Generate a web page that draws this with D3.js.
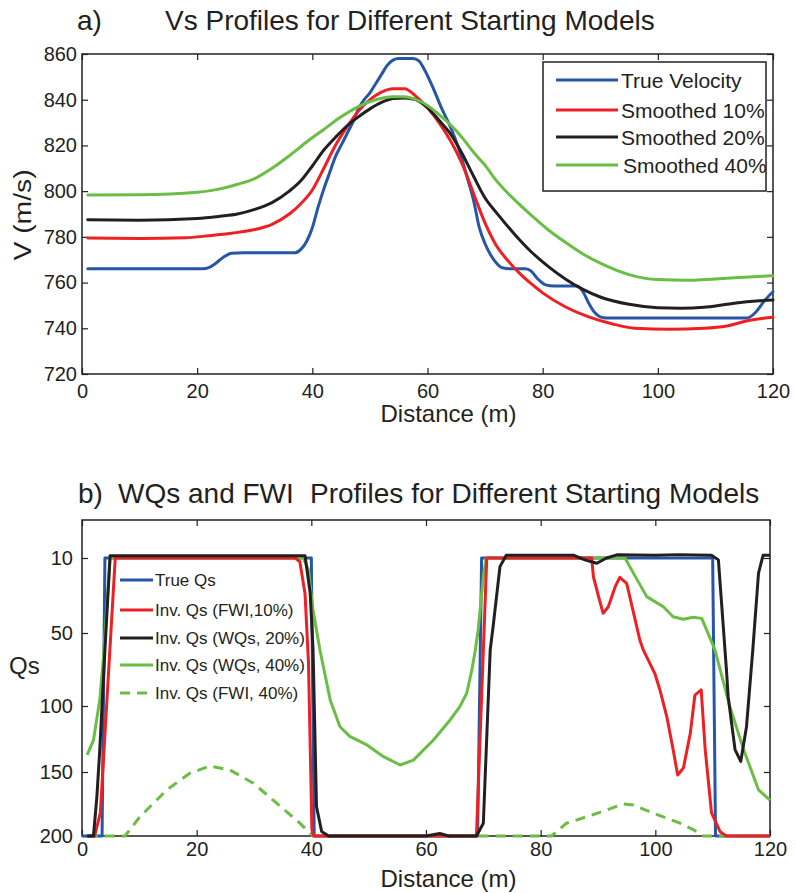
<!DOCTYPE html>
<html><head><meta charset="utf-8">
<script src="https://cdn.jsdelivr.net/npm/d3@7"></script>
<style>
body{margin:0;background:#fff}
svg{display:block}
text{font-family:"Liberation Sans",Arial,Helvetica,sans-serif;fill:#231f20}
</style>
</head><body>
<svg id="c" width="796" height="893"></svg>
<script>
// ---------- DATA (panel a: Vs profiles, [distance m, velocity m/s]) ----------
const xTicks = [0, 20, 40, 60, 80, 100, 120];
const vTicks = [720, 740, 760, 780, 800, 820, 840, 860];
const qTicks = [10, 50, 100, 150, 200];

const trueVelocity = [[1,766],[21,766],[22,766.5],[23,768],[24.5,771],[26,772.8],[28,773],[37,773],[38,774.5],[39,778],[40,784],[41,793],[42,801],[43,808],[44,815],[45,820],[46,825],[47,830],[48,836],[49,840],[50,843],[51,847],[52,851],[53,855],[54,857.3],[55,858],[57.5,858],[58.5,857],[59.5,853],[61,845],[62.5,836],[64,828],[65.5,818],[67,805],[68,796],[69,784],[70,777],[71,772],[72,768.5],[73,766.5],[74.5,766],[77,766],[78,765],[79,762],[80.5,759],[82,758.5],[86,758.5],[87,756],[88,751],[89,747],[90,745],[91,744.5],[115.5,744.5],[117,747],[118.5,752],[120,756]];
const smoothed10 = [[1,779.5],[10,779.3],[18,779.6],[22,780.5],[26,781.6],[30,783.2],[33,785.5],[36,790],[38,794.5],[40,800.5],[42,810],[44,820],[46,828],[48,835],[50,840],[52,843.3],[54,844.8],[56,844.8],[58,841.5],[60,836.5],[62,830],[64,822],[66,812],[68,799],[70,786],[72,776],[74,769.5],[76,764],[78,759.5],[80,755.5],[84,749.3],[88,745],[92,742],[96,740],[102,739.6],[108,740],[112,741],[116,743.5],[120,744.8]];
const smoothed20 = [[1,787.5],[10,787.3],[20,788],[24,789],[27,790],[30,792],[33,795],[36,800],[38,804.5],[40,811],[42,818],[44,823.5],[46,828.5],[48,832.5],[50,836],[52,838.8],[54,840.5],[56,840.8],[58,840],[60,836.5],[62,831],[64,825],[66,816.5],[68,806.5],[70,797],[72,790.5],[75,781.5],[78,773.5],[81,767],[84,761.5],[87,757],[90,753.7],[95,750.5],[100,749],[104,748.8],[108,749.2],[112,750.5],[116,751.7],[120,752.4]];
const smoothed40 = [[1,798.3],[10,798.4],[20,799.5],[24,801],[27,803],[30,805.5],[33,810],[36,815.5],[39,821.5],[42,827],[45,832.5],[48,837],[51,840],[54,841.3],[56,841.3],[58,840],[60,837.5],[62,833.5],[64,829],[66,823.5],[68,817],[70,811.3],[72,804.5],[75,796.5],[78,789.5],[81,783],[84,777.5],[87,772.5],[90,768.5],[95,763.5],[100,761.3],[105,761],[110,761.6],[115,762.3],[120,763]];

// ---------- DATA (panel b: Qs profiles, [distance m, Qs]) ----------
const trueQs = [[0,200],[3.5,200],[4,10],[40,10],[40.5,200],[69,200],[69.7,10],[110,10],[110.5,200],[120,200]];
const fwi10 = [[1,200],[2.2,200],[3.2,182],[5.8,10],[37.2,10],[38,12],[38.9,29],[39.5,70],[40.1,195],[40.4,200],[68.8,200],[70.6,10],[88.9,10],[89.2,20],[90.1,30.6],[90.9,39.5],[91.8,36],[93,25.3],[93.8,20.3],[95,23.5],[96.2,39.3],[97.3,54.8],[97.9,61.6],[99.9,77.6],[100.8,89],[102,108],[103.1,133],[103.9,152.3],[104.9,147],[106.1,120.7],[106.9,92.5],[108,89],[108.7,133],[109.8,182],[111.3,196.6],[112.4,200],[120,200]];
const wqs20 = [[0.9,200],[2,200],[2.6,169],[3.1,133],[4,61.6],[4.9,8.8],[38.9,8.8],[39.8,28.7],[40.3,61.6],[40.9,177],[41.8,196.5],[43,200],[60,200],[62.4,198],[64,200],[68.8,200],[70,190],[71.2,61.6],[71.7,46.7],[72.9,14.6],[74,8.5],[85.7,8.5],[87.7,11],[89.8,12.8],[91.5,10],[93.3,8.3],[100,8.5],[104,8.2],[109.8,8.5],[111,11],[112.4,75],[112.7,93.6],[113.9,133],[114.9,142],[115.9,115.7],[117,61.6],[118,18],[118.8,8.5],[120,8.5]];
const wqs40 = [[0.9,137],[2,125.8],[3.1,95.9],[3.7,68.5],[4.9,10],[38.6,10],[39.5,16.4],[40.3,37.7],[41.5,61.6],[43.3,96],[45,115.7],[46.7,123],[49.7,129.5],[52.6,138.4],[55.5,144.7],[57.8,141],[61.3,125.8],[64.2,110.6],[65.9,100.5],[67.1,91.3],[68,75.3],[68.6,61.6],[69.1,48.4],[70,20],[70.5,10],[94.7,10],[96.2,18.2],[98.5,30.6],[101.4,36],[103.1,41.3],[104.9,42.7],[106.6,41.6],[108.1,42.2],[110.4,61.6],[113,100.5],[115.4,133],[118,164],[120,171.9]];
const fwi40 = [[1,200],[7.5,200],[10.1,185],[14.8,164],[18.8,151],[22.3,145.5],[25.8,148.5],[29.9,158.8],[34,174.5],[38,190],[40.3,200],[81.9,200],[84.5,190],[88,185],[91.5,179.7],[94.4,175],[96.2,175.8],[99.7,182.3],[104.3,190],[106.6,195],[108.4,200],[120,200]];

const legendA = ["True Velocity", "Smoothed 10%", "Smoothed 20%", "Smoothed 40%"];
const legendB = ["True Qs", "Inv. Qs (FWI,10%)", "Inv. Qs (WQs, 20%)", "Inv. Qs (WQs, 40%)", "Inv. Qs (FWI, 40%)"];

// ---------- STYLE ----------
const C = {blue:"#2756a6", red:"#ed2024", black:"#231f20", green:"#6abd45", ink:"#231f20"};
const svg = d3.select("#c");

function styleAxis(g, fs) {
  g.attr("font-size", fs).attr("font-family", '"Liberation Sans",Arial,Helvetica,sans-serif').style("color", C.ink);
  g.selectAll(".tick line").attr("stroke-width", 1.2);
  g.select(".domain").remove();
}

// ================= PANEL A =================
const xA = d3.scaleLinear().domain([0,120]).range([82,773]);
const yA = d3.scaleLinear().domain([720,860]).range([374,54]);

svg.append("text").attr("x",77).attr("y",30).attr("font-size",28).text("a)");
svg.append("text").attr("x",165).attr("y",30).attr("font-size",28).text("Vs Profiles for Different Starting Models");

svg.append("g").attr("transform",`translate(0,${yA(720)})`)
  .call(d3.axisBottom(xA).tickValues(xTicks).tickSize(-6).tickSizeOuter(0).tickPadding(10).tickFormat(d3.format("d")))
  .call(g=>styleAxis(g,20));
svg.append("g").attr("transform",`translate(0,${yA(860)})`)
  .call(d3.axisTop(xA).tickValues(xTicks).tickSize(-6).tickSizeOuter(0).tickFormat(""))
  .call(g=>styleAxis(g,20));
svg.append("g").attr("transform",`translate(${xA(0)},0)`)
  .call(d3.axisLeft(yA).tickValues(vTicks).tickSize(-6).tickSizeOuter(0).tickPadding(5).tickFormat(d3.format("d")))
  .call(g=>styleAxis(g,20));
svg.append("g").attr("transform",`translate(${xA(120)},0)`)
  .call(d3.axisRight(yA).tickValues(vTicks).tickSize(-6).tickSizeOuter(0).tickFormat(""))
  .call(g=>styleAxis(g,20));
svg.append("rect").attr("x",xA(0)).attr("y",yA(860)).attr("width",xA(120)-xA(0)).attr("height",yA(720)-yA(860))
  .attr("fill","none").attr("stroke",C.ink).attr("stroke-width",1.5);

const lineA = d3.line().x(d=>xA(d[0])).y(d=>yA(d[1])).curve(d3.curveMonotoneX);
const seriesA = [[trueVelocity,C.blue],[smoothed10,C.red],[smoothed20,C.black],[smoothed40,C.green]];
seriesA.forEach(([data,col])=>{
  svg.append("path").datum(data).attr("d",lineA).attr("fill","none").attr("stroke",col)
    .attr("stroke-width",3).attr("stroke-linejoin","round").attr("stroke-linecap","round");
});

svg.append("text").attr("x",448.5).attr("y",422).attr("text-anchor","middle").attr("font-size",24).text("Distance (m)");
svg.append("text").attr("transform","translate(31,215) rotate(-90) scale(1.18,1)").attr("text-anchor","middle").attr("font-size",24).text("V (m/s)");

// legend A
const legA = svg.append("g");
legA.append("rect").attr("x",543).attr("y",62).attr("width",223).attr("height",129)
  .attr("fill","#fff").attr("stroke",C.ink).attr("stroke-width",1.5);
const legAy = [80,110,137,165];
legendA.forEach((t,i)=>{
  legA.append("line").attr("x1",556).attr("x2",618).attr("y1",legAy[i]).attr("y2",legAy[i])
    .attr("stroke",seriesA[i][1]).attr("stroke-width",3);
  legA.append("text").attr("x",i===3?623:621).attr("y",legAy[i]+7.5).attr("font-size",21).text(t);
});

// ================= PANEL B =================
const xB = d3.scaleLinear().domain([0,120]).range([82,770]);
const yB = d3.scaleLinear().domain(qTicks).range([558,633,706,772,836]);
const topB = 520;

svg.append("text").attr("x",78).attr("y",503).attr("font-size",28).text("b)");
svg.append("text").attr("x",118).attr("y",503).attr("font-size",28).text("WQs and FWI");
svg.append("text").attr("x",310).attr("y",503).attr("font-size",28).text("Profiles for Different Starting Models");

svg.append("g").attr("transform",`translate(0,${yB(200)})`)
  .call(d3.axisBottom(xB).tickValues(xTicks).tickSize(-6).tickSizeOuter(0).tickPadding(6).tickFormat(d3.format("d")))
  .call(g=>styleAxis(g,20));
svg.append("g").attr("transform",`translate(0,${topB})`)
  .call(d3.axisTop(xB).tickValues(xTicks).tickSize(-6).tickSizeOuter(0).tickFormat(""))
  .call(g=>styleAxis(g,20));
svg.append("g").attr("transform",`translate(${xB(0)},0)`)
  .call(d3.axisLeft(yB).tickValues(qTicks).tickSize(-6).tickSizeOuter(0).tickPadding(9).tickFormat(d3.format("d")))
  .call(g=>styleAxis(g,20));
svg.append("g").attr("transform",`translate(${xB(120)},0)`)
  .call(d3.axisRight(yB).tickValues(qTicks).tickSize(-6).tickSizeOuter(0).tickFormat(""))
  .call(g=>styleAxis(g,20));
svg.append("rect").attr("x",xB(0)).attr("y",topB).attr("width",xB(120)-xB(0)).attr("height",yB(200)-topB)
  .attr("fill","none").attr("stroke",C.ink).attr("stroke-width",1.5);

const lineB = d3.line().x(d=>xB(d[0])).y(d=>yB(d[1]));
const seriesB = [[trueQs,C.blue,null],[fwi40,C.green,"10,7"],[wqs40,C.green,null],[fwi10,C.red,null],[wqs20,C.black,null]];
seriesB.forEach(([data,col,dash])=>{
  svg.append("path").datum(data).attr("d",lineB).attr("fill","none").attr("stroke",col)
    .attr("stroke-width",3).attr("stroke-linejoin","round").attr("stroke-dasharray",dash);
});

svg.append("text").attr("x",448.5).attr("y",887).attr("text-anchor","middle").attr("font-size",24).text("Distance (m)");
svg.append("text").attr("x",9).attr("y",674).attr("font-size",24).text("Qs");

// legend B (no box)
const legBy = [580,610,638,665,693];
const legBcol = [C.blue,C.red,C.black,C.green,C.green];
const legBdash = [null,null,null,null,"10,7"];
legendB.forEach((t,i)=>{
  svg.append("line").attr("x1",120).attr("x2",153).attr("y1",legBy[i]).attr("y2",legBy[i])
    .attr("stroke",legBcol[i]).attr("stroke-width",3).attr("stroke-dasharray",legBdash[i]);
  svg.append("text").attr("x",155).attr("y",legBy[i]+6).attr("font-size",17).text(t);
});
</script>
</body></html>
